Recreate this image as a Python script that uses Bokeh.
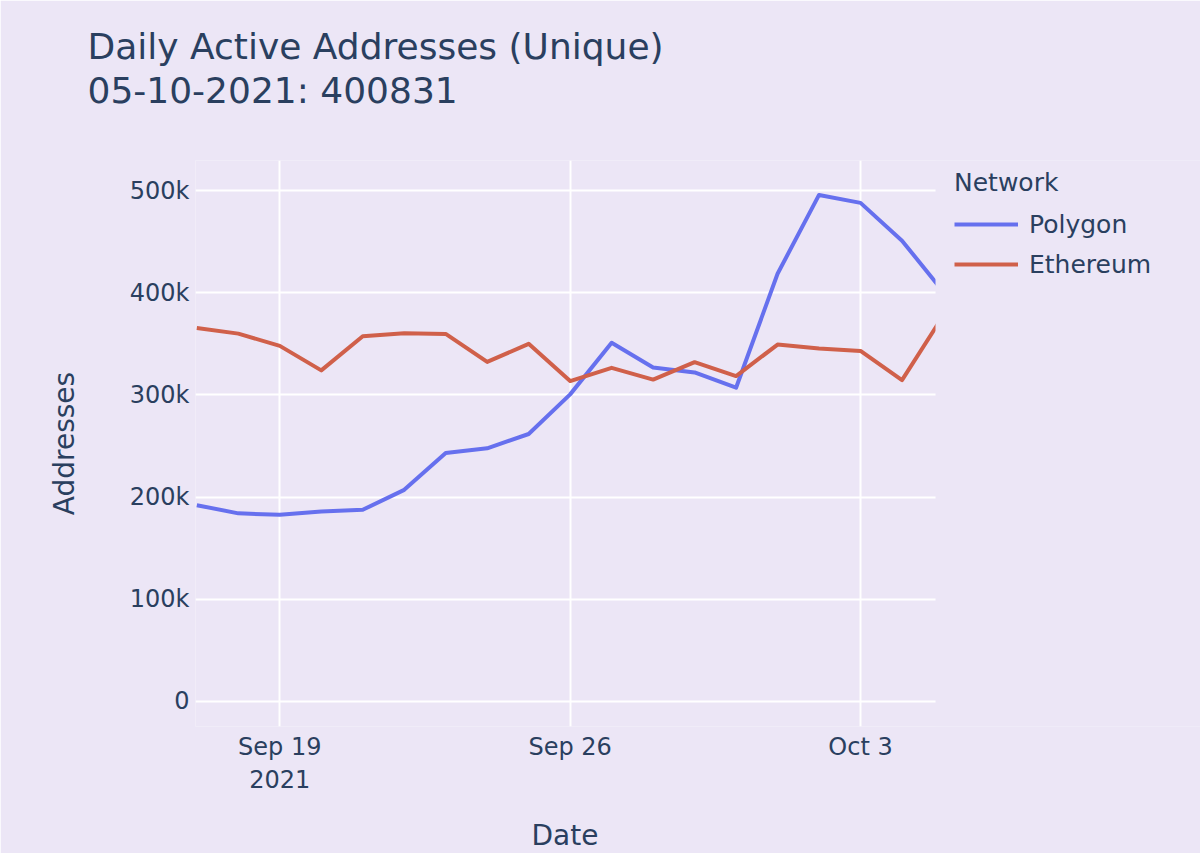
import pandas as pd
from bokeh.plotting import figure
from bokeh.models import (Range1d, FixedTicker, NumeralTickFormatter, Title,
                          Legend, LegendItem, BoxAnnotation)
from bokeh.embed import file_html
from bokeh.resources import INLINE

# ---- data ----
dates = ["2021-09-17", "2021-09-18", "2021-09-19", "2021-09-20", "2021-09-21",
         "2021-09-22", "2021-09-23", "2021-09-24", "2021-09-25", "2021-09-26",
         "2021-09-27", "2021-09-28", "2021-09-29", "2021-09-30", "2021-10-01",
         "2021-10-02", "2021-10-03", "2021-10-04", "2021-10-05"]
polygon = [192000, 184000, 182600, 185800, 187500, 207000, 243000, 247700,
           261700, 300500, 351000, 326800, 322000, 307000, 418600, 495800,
           488000, 451000, 400831]
ethereum = [365500, 360000, 348000, 324000, 357400, 360400, 359700, 332300,
            350000, 313500, 326500, 315000, 332000, 318400, 349300, 345400,
            343000, 314500, 378000]
series_names = ["Polygon", "Ethereum"]
x_tick_dates = ["2021-09-19", "2021-09-26", "2021-10-03"]
x_tick_labels = ["Sep 19\n2021", "Sep 26", "Oct 3"]
y_ticks = [0, 100000, 200000, 300000, 400000, 500000]
title_lines = ["Daily Active Addresses (Unique)", "05-10-2021: 400831"]
x_label = "Date"
y_label = "Addresses"
legend_title = "Network"

# ---- styling ----
BG = "#ECE6F6"
TXT = "#2a3f5f"
FONT = "DejaVu Sans"
COLORS = ["#6670EE", "#D0604A"]

W, H = 1200, 853
x = pd.to_datetime(dates)
x_start = pd.Timestamp("2021-09-16 23:14")     # left edge of the plot area
x_clip = pd.Timestamp("2021-10-04 19:23")      # right edge of the plot area
x_canvas_end = pd.Timestamp("2021-10-11 04:42")  # frame runs on under the legend
to_ms = lambda t: pd.Timestamp(t).value / 1e6

p = figure(width=W, height=H, x_axis_type="datetime", title=None,
           x_range=Range1d(x_start, x_canvas_end), y_range=Range1d(-24700, 529500),
           output_backend="svg", toolbar_location=None,
           min_border_left=195, min_border_right=0,
           min_border_top=160, min_border_bottom=127)
p.background_fill_color = BG
p.border_fill_color = BG
p.outline_line_color = None

renderers = []
for vals, c in zip([polygon, ethereum], COLORS):
    r = p.line(x, vals, line_color=c, line_width=4, line_join="round")
    renderers.append(r)

# hide what lies right of the plot area (the reference clips there)
p.add_layout(BoxAnnotation(left=to_ms(x_clip), fill_color=BG, fill_alpha=1.0,
                           line_alpha=0))

# axes
tick_ms = [to_ms(d) for d in x_tick_dates]
p.xaxis.ticker = FixedTicker(ticks=tick_ms)
p.xaxis.major_label_overrides = {t: lab for t, lab in zip(tick_ms, x_tick_labels)}
p.yaxis.ticker = FixedTicker(ticks=y_ticks)
p.yaxis.formatter = NumeralTickFormatter(format="0a")

for ax in (p.xaxis[0], p.yaxis[0]):
    ax.axis_line_color = None
    ax.major_tick_line_color = None
    ax.minor_tick_line_color = None
    ax.major_label_text_font = FONT
    ax.major_label_text_font_size = "24px"
    ax.major_label_text_color = TXT
    ax.axis_label_text_font = FONT
    ax.axis_label_text_font_size = "28px"
    ax.axis_label_text_font_style = "normal"
    ax.axis_label_text_color = TXT

p.yaxis.axis_label = y_label
p.xaxis.major_label_standoff = 0
p.yaxis.major_label_standoff = 0
p.yaxis.axis_label_standoff = 46

# x-axis title, centred under the plot area (leading blank line pushes it down)
p.add_layout(Title(text=" \n" + x_label, align="left", offset=336, standoff=0,
                   text_line_height=0.62,
                   text_font=FONT, text_font_size="28px",
                   text_font_style="normal", text_color=TXT), "below")

p.xgrid.grid_line_color = "white"
p.ygrid.grid_line_color = "white"
p.xgrid.grid_line_width = 2
p.ygrid.grid_line_width = 2
p.ygrid.bounds = (to_ms(x_start), to_ms(x_clip))

# two-line chart title (trailing blank line keeps it high in its panel)
p.add_layout(Title(text="\n".join(title_lines) + "\n ", align="left", offset=-108,
                   standoff=13, text_line_height=1.06,
                   text_font=FONT, text_font_size="36px",
                   text_font_style="normal", text_color=TXT), "above")

# legend
legend = Legend(items=[LegendItem(label=n, renderers=[r])
                       for n, r in zip(series_names, renderers)],
                title=legend_title, location=(759, 444),
                margin=0, padding=10,
                title_text_font=FONT, title_text_font_size="25px",
                title_text_color=TXT, title_text_font_style="normal",
                title_standoff=9,
                label_text_font=FONT, label_text_font_size="25px",
                label_text_color=TXT,
                glyph_width=64, glyph_height=36, label_height=36,
                label_standoff=11, spacing=4,
                border_line_color=None, background_fill_alpha=0)
p.add_layout(legend, "center")

open("out.html", "w").write(file_html(p, INLINE))
